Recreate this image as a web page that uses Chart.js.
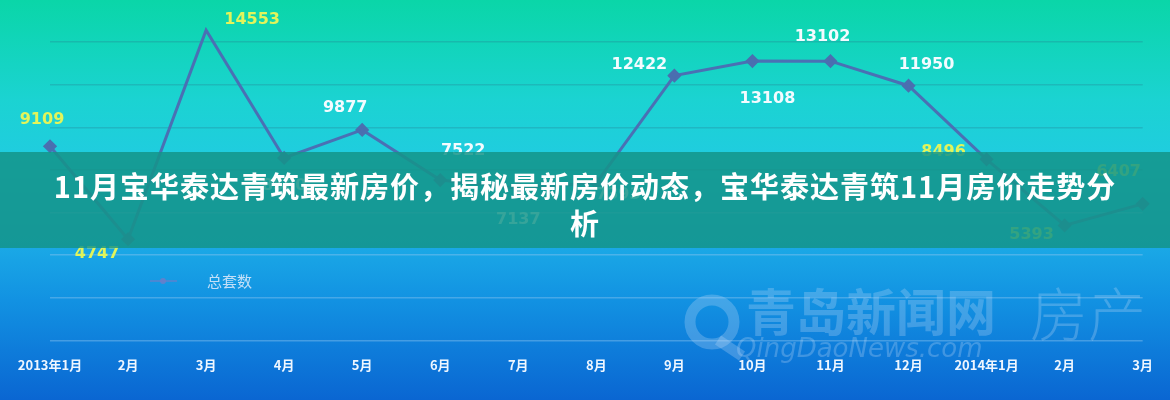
<!DOCTYPE html>
<html>
<head>
<meta charset="utf-8">
<script src="https://cdn.jsdelivr.net/npm/chart.js@4.4.0/dist/chart.umd.min.js"></script>
<style>
html, body { margin: 0; padding: 0; }
body {
    width: 1170px; height: 400px; overflow: hidden; position: relative;
    background: linear-gradient(180deg, #0ad6a8 0%, #1bd3d2 25%, #20cce0 40%, #1aa8e6 62%, #1292e2 75%, #0a66d2 100%);
    font-family: "Noto Sans CJK SC", sans-serif;
}
#grafico { position: absolute; left: 0; top: 0; }
.faixa {
    position: absolute; left: 0; top: 152px; width: 1170px; height: 96px;
    background: rgba(20, 148, 136, 0.85);
    color: #fff; font-weight: bold; font-size: 29px; line-height: 37px;
    letter-spacing: 1px; text-align: center; padding-top: 15px; box-sizing: border-box;
}
</style>
</head>
<body>
<canvas id="grafico" width="1170" height="400"></canvas>
<div class="faixa">11月宝华泰达青筑最新房价，揭秘最新房价动态，宝华泰达青筑11月房价走势分<br>析</div>
<script>
// Dados do gráfico
const meses = ['2013年1月', '2月', '3月', '4月', '5月', '6月', '7月', '8月', '9月', '10月', '11月', '12月', '2014年1月', '2月', '3月'];
const totalSets = [9109, 4747, 14553, 8560, 9877, 7522, 7137, 7393, 12422, 13108, 13102, 11950, 8496, 5393, 6407];

// Posição dos rótulos em relação ao ponto (dx, dy)
const deslocRotulos = [[-8, -26], [-31, 15], [46, -10], [0, 28], [-17, -22], [23, -29], [0, 32], [22, 12],
    [-35, -11], [15, 38], [-8, -24], [18, -21], [-43, -7], [-33, 9], [-24, -32]];
const AM = '#e2f45a', BR = '#f4fbff';
const corRotulos = [AM, AM, AM, BR, BR, BR, BR, BR, BR, BR, BR, BR, AM, AM, AM];

const rotulosPlugin = {
    id: 'rotulos',
    beforeDatasetsDraw(chart) {
        const ctx = chart.ctx;
        ctx.save();
        // marca d'água
        ctx.fillStyle = 'rgba(195, 220, 248, 0.28)';
        ctx.strokeStyle = 'rgba(195, 220, 248, 0.28)';
        ctx.lineWidth = 11;
        ctx.beginPath();
        ctx.arc(712, 322, 22, 0, Math.PI * 2);
        ctx.stroke();
        ctx.beginPath();
        ctx.moveTo(718, 340);
        ctx.lineTo(742, 356);
        ctx.stroke();
        ctx.textBaseline = 'middle';
        ctx.textAlign = 'left';
        ctx.font = 'bold 50px "Noto Sans CJK SC"';
        ctx.fillText('青岛新闻网', 746, 312);
        ctx.font = '300 58px "Noto Sans CJK SC"';
        ctx.fillText('房产', 1030, 314);
        ctx.font = 'italic 26px "DejaVu Sans"';
        ctx.fillText('QingDaoNews.com', 736, 350);
        ctx.restore();
    },
    afterDatasetsDraw(chart) {
        const ctx = chart.ctx;
        const meta = chart.getDatasetMeta(0);
        ctx.save();
        ctx.font = 'bold 16px "DejaVu Sans"';
        ctx.textAlign = 'center';
        ctx.textBaseline = 'middle';
        meta.data.forEach((pt, i) => {
            const off = deslocRotulos[i];
            ctx.fillStyle = corRotulos[i];
            ctx.fillText(totalSets[i], pt.x + off[0], pt.y + off[1]);
        });
        // legenda
        ctx.strokeStyle = 'rgba(110, 125, 200, 0.6)';
        ctx.lineWidth = 2;
        ctx.beginPath();
        ctx.moveTo(150, 281);
        ctx.lineTo(177, 281);
        ctx.stroke();
        ctx.fillStyle = 'rgba(110, 125, 200, 0.8)';
        ctx.beginPath();
        ctx.arc(163, 281, 3, 0, Math.PI * 2);
        ctx.fill();
        ctx.font = '15px "Noto Sans CJK SC"';
        ctx.textAlign = 'left';
        ctx.fillStyle = 'rgba(225, 235, 250, 0.85)';
        ctx.fillText('总套数', 207, 281);
        ctx.restore();
    }
};

new Chart(document.getElementById('grafico'), {
    type: 'line',
    data: {
        labels: meses,
        datasets: [{
            label: '总套数',
            data: totalSets,
            borderColor: '#4a70b4',
            borderWidth: 3,
            pointStyle: 'rectRot',
            pointRadius: 5,
            pointBackgroundColor: '#4a6fb0',
            pointBorderColor: '#4a6fb0',
            tension: 0,
            clip: false
        }]
    },
    options: {
        responsive: false,
        animation: false,
        layout: { padding: { left: 50, right: 24, top: 42, bottom: 10 } },
        plugins: {
            legend: { display: false },
            tooltip: { enabled: false }
        },
        scales: {
            x: {
                grid: { display: false, drawTicks: false },
                border: { display: false },
                ticks: {
                    color: '#eef6ff',
                    font: { family: '"Noto Sans CJK SC"', size: 13, weight: 'bold' },
                    padding: 17,
                    maxRotation: 0,
                    autoSkip: false
                }
            },
            y: {
                min: 0,
                max: 14000,
                border: { display: false },
                ticks: { display: false, stepSize: 2000 },
                grid: {
                    drawTicks: false,
                    lineWidth: 1.5,
                    color: function(c) {
                        return c.tick.value >= 8000 ? 'rgba(40, 120, 140, 0.28)' : 'rgba(150, 200, 240, 0.4)';
                    }
                }
            }
        }
    },
    plugins: [rotulosPlugin]
});
</script>
</body>
</html>
